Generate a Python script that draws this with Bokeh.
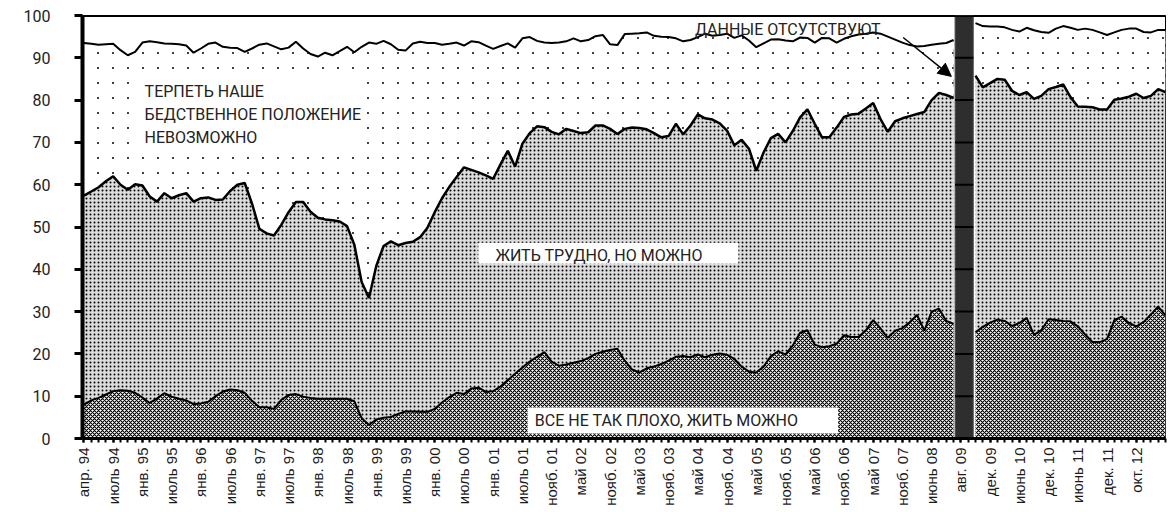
import numpy as np
from bokeh.plotting import figure
from bokeh.models import (Range1d, FixedTicker, SingleIntervalTicker, Label, Arrow,
                          NormalHead, Span, BoxAnnotation)
from bokeh.embed import file_html
from bokeh.resources import INLINE

NAN = float("nan")

# category labels shown on the axis (every 4th survey)
tick_labels = ["апр. 94", "июль 94", "янв. 95", "июль 95", "янв. 96", "июль 96", "янв. 97",
               "июль 97", "янв. 98", "июль 98", "янв. 99", "июль 99", "янв. 00", "июль 00",
               "янв. 01", "июль 01", "нояб. 01", "май 02", "нояб. 02", "май 03", "нояб. 03",
               "май 04", "нояб. 04", "май 05", "нояб. 05", "май 06", "нояб. 06", "май 07",
               "нояб. 07", "июнь 08", "авг. 09", "дек. 09", "июнь 10", "дек. 10", "июнь 11",
               "дек. 11", "окт. 12"]
label_every = 4

# stacked levels (%)
# "все не так плохо, жить можно"
level_good = [
    8.0, 9.0, 9.6, 10.4, 11.2, 11.4, 11.3, 10.8, 9.7, 8.4,
    9.5, 10.7, 9.9, 9.4, 9.0, 8.1, 8.3, 8.7, 10.0, 11.1,
    11.6, 11.4, 10.8, 8.9, 7.4, 7.4, 7.0, 9.1, 10.3, 10.5,
    9.9, 9.6, 9.4, 9.4, 9.4, 9.4, 9.4, 8.8, 4.8, 3.2,
    4.5, 4.9, 5.1, 5.8, 6.4, 6.4, 6.3, 6.3, 7.0, 8.5,
    9.8, 10.8, 10.5, 11.8, 12.0, 11.0, 11.2, 12.3, 13.8, 15.3,
    16.8, 18.2, 19.3, 20.4, 18.2, 17.2, 17.5, 17.9, 18.3, 19.0,
    20.0, 20.5, 20.9, 21.2, 18.4, 16.3, 15.6, 16.6, 17.0, 17.6,
    18.4, 19.3, 19.5, 19.2, 19.9, 19.2, 19.8, 20.1, 19.8, 18.8,
    17.0, 15.8, 15.6, 17.0, 19.5, 20.6, 19.9, 22.0, 25.0, 25.6,
    22.2, 21.6, 21.8, 22.4, 24.4, 24.0, 24.0, 25.6, 28.0, 26.0,
    23.8, 25.5, 26.1, 27.5, 29.2, 25.5, 30.0, 30.7, 27.8, 27.1,
    NAN, NAN,
    25.1, 26.4, 27.4, 28.1, 27.8, 26.6, 27.3, 28.5,
    24.5, 25.6, 28.2, 28.0, 27.8, 27.7, 26.5, 24.6, 22.8, 22.8,
    23.5, 28.0, 28.8, 27.3, 26.5, 27.5, 29.3, 31.2, 29.1]

# + "жить трудно, но можно терпеть"
level_hard = [
    57.4, 58.4, 59.4, 60.8, 62.0, 60.0, 58.8, 60.1, 59.8, 57.2,
    56.0, 58.0, 56.8, 57.5, 58.0, 56.0, 56.8, 57.0, 56.4, 56.5,
    58.5, 60.0, 60.4, 55.5, 49.6, 48.5, 48.0, 50.5, 53.5, 55.9,
    55.9, 53.6, 52.2, 51.8, 51.6, 51.3, 50.2, 45.8, 37.0, 33.2,
    40.8, 45.5, 46.6, 45.7, 46.2, 46.5, 47.6, 49.8, 53.5, 56.8,
    59.5, 61.8, 64.1, 63.5, 62.9, 62.2, 61.4, 64.8, 68.0, 64.3,
    69.7, 72.2, 73.8, 73.6, 72.5, 71.9, 73.2, 72.7, 72.2, 72.4,
    74.0, 74.0, 73.2, 72.0, 73.2, 73.5, 73.4, 73.1, 72.2, 71.2,
    71.5, 74.4, 71.9, 74.0, 76.6, 75.7, 75.4, 74.5, 72.8, 69.3,
    70.6, 68.5, 63.3, 67.6, 71.0, 72.0, 70.0, 72.7, 75.9, 77.8,
    74.4, 71.2, 71.2, 73.5, 76.0, 76.6, 76.8, 78.0, 79.3, 75.5,
    72.5, 75.0, 75.7, 76.2, 76.7, 77.2, 80.0, 81.7, 81.2, 80.5,
    NAN, NAN,
    85.8, 83.0, 84.0, 85.0, 84.8, 82.2, 81.2, 81.9,
    80.3, 81.0, 82.6, 83.1, 83.7, 80.7, 78.5, 78.4, 78.3, 77.8,
    77.8, 80.1, 80.4, 80.8, 81.5, 80.5, 81.0, 82.6, 81.9]

# + "терпеть наше бедственное положение невозможно"
level_total = [
    93.5, 93.3, 93.1, 93.2, 93.3, 91.8, 90.6, 91.4, 93.6, 93.9,
    93.7, 93.4, 93.3, 93.2, 92.9, 91.2, 92.2, 93.3, 93.6, 92.6,
    92.4, 92.3, 91.4, 92.2, 93.1, 93.4, 92.7, 92.0, 92.4, 93.8,
    92.2, 90.9, 90.3, 91.2, 90.6, 91.6, 92.6, 91.3, 92.6, 93.6,
    93.3, 94.0, 93.2, 91.9, 91.7, 93.4, 93.8, 93.5, 93.5, 93.1,
    93.3, 93.6, 92.9, 93.9, 93.7, 92.9, 92.1, 92.8, 93.4, 92.4,
    94.6, 94.9, 94.0, 93.6, 93.5, 93.6, 93.9, 94.6, 93.9, 94.2,
    95.1, 95.4, 93.2, 93.0, 95.6, 95.7, 95.8, 96.0, 95.2, 95.0,
    94.9, 94.6, 93.9, 94.2, 94.9, 95.7, 95.2, 95.4, 95.7, 94.7,
    95.3, 94.1, 92.5, 93.4, 94.3, 94.4, 94.1, 93.9, 94.8, 94.7,
    93.6, 94.7, 94.6, 93.6, 94.5, 95.1, 95.5, 95.7, 96.0, 95.7,
    95.0, 94.3, 93.6, 93.0, 92.7, 92.8, 93.1, 93.3, 93.5, 94.2,
    NAN, NAN,
    98.2, 97.5, 97.4, 97.4, 97.2, 96.6, 96.2, 97.1,
    96.5, 96.1, 95.9, 96.9, 97.5, 97.1, 96.6, 96.9, 96.6, 96.0,
    95.4, 96.0, 96.6, 96.9, 96.9, 96.1, 96.0, 96.6, 96.6]

good = np.array(level_good)
hard = np.array(level_hard)
total = np.array(level_total)
n = len(good)
x = np.arange(n)

# contiguous runs of valid data
valid = ~np.isnan(total)
runs = []
i = 0
while i < n:
    if valid[i]:
        j = i
        while j < n and valid[j]:
            j += 1
        runs.append((i, j))
        i = j
    else:
        i += 1
missing = np.where(~valid)[0]

SANS = "Liberation Sans"
NARROW = "Roboto"

p = figure(width=1174, height=512, output_backend="svg", toolbar_location=None,
           x_range=Range1d(-0.2, n - 1), y_range=Range1d(0, 100),
           min_border_left=82, min_border_right=9, min_border_top=15, min_border_bottom=74,
           background_fill_color="white", border_fill_color="white")
p.outline_line_color = "black"
p.outline_line_width = 1
p.xgrid.visible = False
p.ygrid.visible = False

for a, b in runs:
    xs = x[a:b]
    # "все не так плохо" - dark checker
    p.varea(x=xs, y1=0, y2=good[a:b], fill_color="white",
            hatch_pattern="diagonal_cross", hatch_scale=4, hatch_weight=1.1,
            hatch_color="black")
    # "жить трудно" - dense dots
    p.varea(x=xs, y1=good[a:b], y2=hard[a:b], fill_color="#dcdcdc",
            hatch_pattern="dot", hatch_scale=4, hatch_color="black")
    # "терпеть невозможно" - sparse small dots (dot pattern trimmed by a white ring)
    p.varea(x=xs, y1=hard[a:b], y2=total[a:b], fill_color="white",
            hatch_pattern="dot", hatch_scale=15, hatch_color="black")
    p.varea(x=xs, y1=hard[a:b], y2=total[a:b], fill_color=None, fill_alpha=0,
            hatch_pattern="ring", hatch_scale=15, hatch_weight=5.5, hatch_color="white")

p.line(x, total, line_color="black", line_width=2)
p.line(x, hard, line_color="black", line_width=2.5)
p.line(x, good, line_color="black", line_width=2)

# dark bar over the missing surveys
if len(missing):
    g0 = missing.min() - 0.8
    g1 = missing.max() + 0.7
    p.quad(left=g0, right=g1, bottom=0, top=100, fill_color="#2e2e2e",
           line_color="#5a5a5a", line_width=1)
    lv = list(range(10, 100, 10))
    p.segment(x0=[g0] * len(lv), x1=[g1] * len(lv), y0=lv, y1=lv,
              line_color="black", line_width=2)

p.add_layout(Span(location=100, dimension="width", line_color="black", line_width=3))

# axes
xa = p.xaxis[0]
label_pos = [k * label_every for k in range(len(tick_labels))]
xa.ticker = FixedTicker(ticks=label_pos, minor_ticks=list(range(n)))
xa.major_label_overrides = {pos: lab for pos, lab in zip(label_pos, tick_labels)}
xa.major_label_orientation = np.pi / 2
xa.axis_line_width = 3
xa.axis_line_color = "black"
xa.major_tick_out = 4
xa.major_tick_in = 0
xa.minor_tick_out = 4
xa.minor_tick_in = 0
xa.major_tick_line_width = 2
xa.minor_tick_line_width = 2
xa.major_tick_line_color = "black"
xa.minor_tick_line_color = "black"
xa.major_label_standoff = 5
xa.major_label_text_font = SANS
xa.major_label_text_font_size = "15px"
xa.major_label_text_color = "#1a1a1a"

ya = p.yaxis[0]
ya.ticker = SingleIntervalTicker(interval=10, num_minor_ticks=0)
ya.axis_line_width = 4
ya.axis_line_color = "black"
ya.major_tick_out = 8
ya.major_tick_in = 0
ya.major_tick_line_width = 3
ya.major_tick_line_color = "black"
ya.minor_tick_out = 0
ya.major_label_standoff = 24
ya.major_label_text_font = NARROW
ya.major_label_text_font_size = "16px"
ya.major_label_text_color = "#222222"

# white boxes behind the captions
for l, r, t, bt in [(7.73, 38.1, 84.6, 69.0),
                    (53.97, 89.55, 46.3, 41.4),
                    (60.7, 103.2, 7.33, 1.18)]:
    p.add_layout(BoxAnnotation(left=l, right=r, top=t, bottom=bt, fill_color="white",
                               fill_alpha=1.0, line_color=None))

# captions
common = dict(text_font=NARROW, text_font_size="16px", text_color="#222222",
              text_align="left", text_baseline="top")
p.add_layout(Label(x=8.3, y=84.3, text="ТЕРПЕТЬ НАШЕ\nБЕДСТВЕННОЕ ПОЛОЖЕНИЕ\nНЕВОЗМОЖНО",
                   text_line_height=1.2, **common))
p.add_layout(Label(x=56.3, y=45.6, text="ЖИТЬ ТРУДНО, НО МОЖНО", **common))
p.add_layout(Label(x=61.7, y=6.4, text="ВСЕ НЕ ТАК ПЛОХО, ЖИТЬ МОЖНО", **common))
p.add_layout(Label(x=83.6, y=98.9, text="ДАННЫЕ  ОТСУТСТВУЮТ", **common))
p.add_layout(Arrow(x_start=112.1, y_start=94.8, x_end=118.7, y_end=85.6,
                   line_color="black", line_width=1.5,
                   end=NormalHead(size=13, fill_color="black", line_color="black")))

open("out.html", "w").write(file_html(p, INLINE))
